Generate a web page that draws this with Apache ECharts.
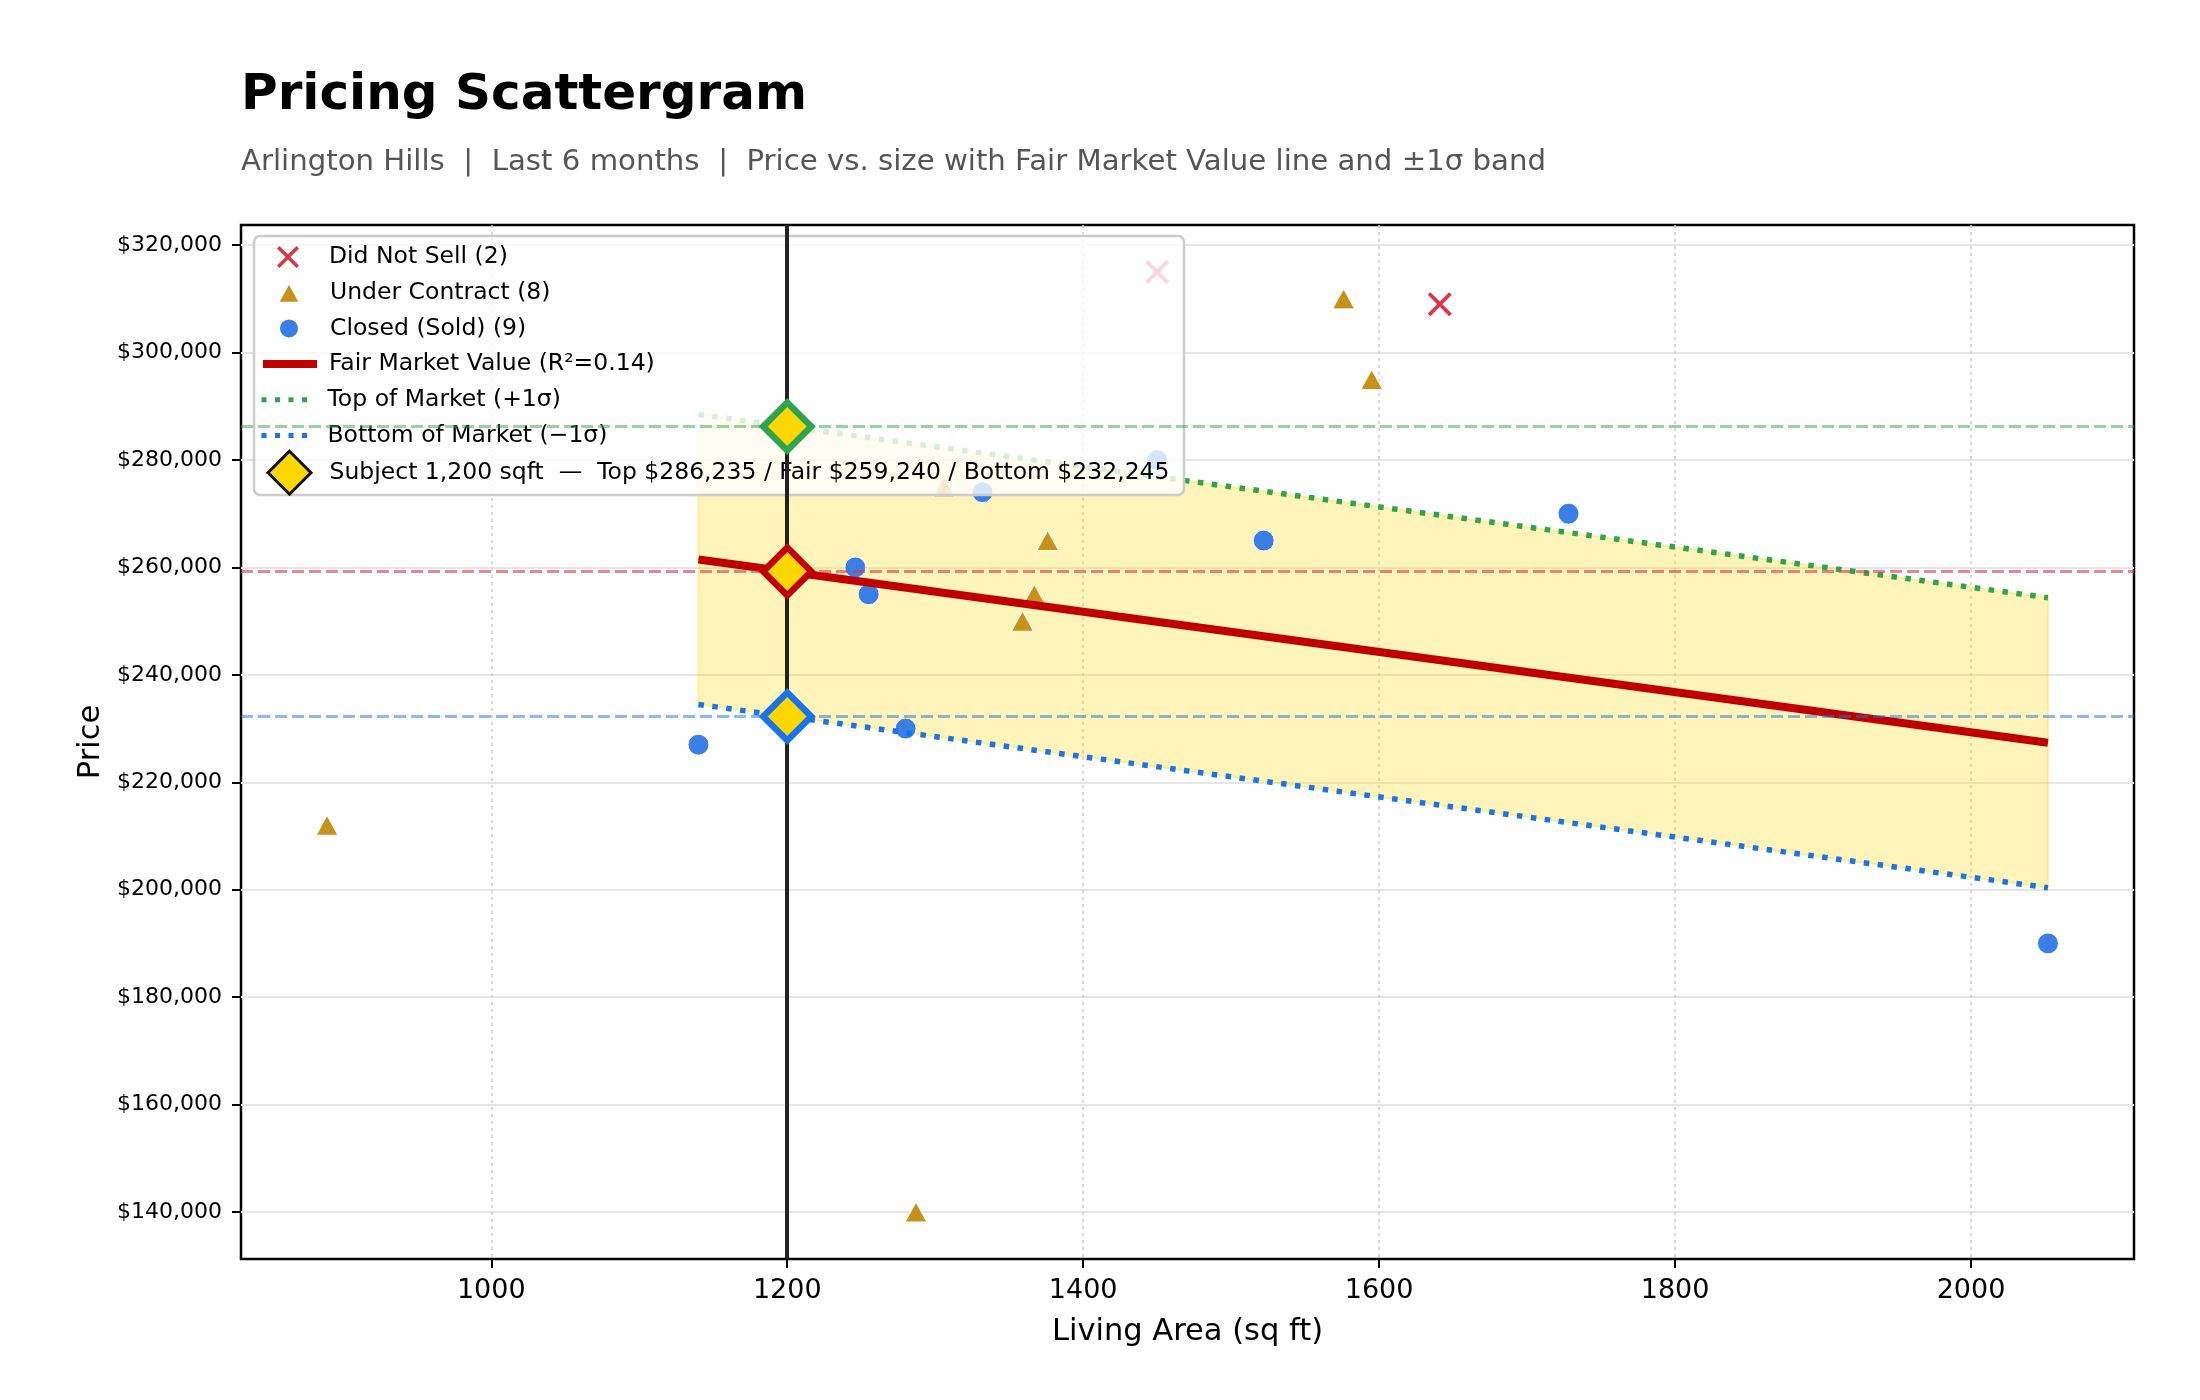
<!DOCTYPE html>
<html>
<head>
<meta charset="utf-8">
<title>Pricing Scattergram</title>
<script src="https://cdn.jsdelivr.net/npm/echarts@6/dist/echarts.min.js"></script>
<style>
  html, body { margin: 0; padding: 0; background: #fff; }
  #chart { width: 2200px; height: 1400px; }
</style>
</head>
<body>
<div id="chart"></div>
<script>
// data: [living area sq ft, price $]
var didNotSell = [[1450, 315000], [1641, 309000]];
var underContract = [[889, 212000], [1287, 140000], [1306, 275000], [1359, 250000],
                     [1367, 255000], [1376, 265000], [1576, 310000], [1595, 295000]];
var closedSold = [[1140, 227000], [1246, 260000], [1255, 255000], [1280, 230000],
                  [1332, 274000], [1450, 280000], [1522, 265000], [1728, 270000], [2052, 190000]];

// fair market value line and the +/-1 sigma lines (end points)
var fmvLine = [[1140, 261480], [2052, 227370]];
var topLine = [[1140, 288475], [2052, 254365]];
var bottomLine = [[1140, 234485], [2052, 200375]];

// subject property
var subjectSqft = 1200;
var subjectTop = 286235;
var subjectFair = 259240;
var subjectBottom = 232245;

// tick values
var xTicks = [1000, 1200, 1400, 1600, 1800, 2000];
var yTicks = [140000, 160000, 180000, 200000, 220000, 240000, 260000, 280000, 300000, 320000];

var legendNames = [
  'Did Not Sell (2)',
  'Under Contract (8)',
  'Closed (Sold) (9)',
  'Fair Market Value (R\u00b2=0.14)',
  'Top of Market (+1\u03c3)',
  'Bottom of Market (\u22121\u03c3)',
  'Subject 1,200 sqft  \u2014  Top $286,235 / Fair $259,240 / Bottom $232,245'
];

(function () {
  "use strict";
  var chart = echarts.init(document.getElementById("chart"), null, { renderer: "canvas" });
  var FONT = "DejaVu Sans";

  var RED_X = "#dc3545";
  var GOLD = "#c8921a";
  var BLUE_DOT = "#3b7fe6";
  var FMV_RED = "#c00000";
  var GREEN = "#2ea44f";
  var BLUE = "#1a73e8";
  var crossPath = "path://M1.1,0L5,3.9L8.9,0L10,1.1L6.1,5L10,8.9L8.9,10L5,6.1L1.1,10L0,8.9L3.9,5L0,1.1Z";
  var hideDot = { color: "rgba(0,0,0,0)", borderWidth: 0, opacity: 0 };

  // one legend per row so each icon keeps its own size
  var rowIcon = [
    { w: 22, h: 22, cx: 288, shift: 0 },
    { w: 22, h: 20, cx: 288, shift: 0 },
    { w: 20, h: 20, cx: 288, shift: 0 },
    { w: 54, h: 14, cx: 286, shift: -4, line: { color: FMV_RED, width: 8, type: "solid" }, item: hideDot },
    { w: 54, h: 14, cx: 286, shift: -4, line: { color: GREEN, width: 5, type: [5, 8.5] }, item: hideDot },
    { w: 54, h: 14, cx: 286, shift: -4, line: { color: BLUE, width: 5, type: [5, 8.5] }, item: hideDot },
    { w: 43, h: 43, cx: 288, shift: -1, item: { color: "#FFD700", borderColor: "#111", borderWidth: 3, opacity: 1 } }
  ];
  var legends = legendNames.map(function (name, i) {
    var cy = 257 + i * 35.7;
    var r = rowIcon[i];
    var box = Math.max(r.h, 28);
    var left = r.cx - r.w / 2;
    var lg = {
      data: [name],
      orient: "vertical",
      left: left,
      top: cy - box / 2,
      padding: 0,
      itemWidth: r.w,
      itemHeight: r.h,
      selectedMode: false,
      z: 5,
      textStyle: {
        fontFamily: FONT, fontSize: 23.5, color: "#000", lineHeight: 28,
        padding: [0, 0, 0, 329 - left - r.w - 5 + r.shift]
      }
    };
    if (r.line) lg.lineStyle = r.line;
    if (r.item) lg.itemStyle = r.item;
    return lg;
  });

  var option = {
    animation: false,
    backgroundColor: "#fff",
    textStyle: { fontFamily: FONT },
    title: [
      {
        text: "Pricing Scattergram",
        left: 241, top: 71, padding: 0,
        textStyle: { fontFamily: FONT, fontSize: 50, fontWeight: "bold", color: "#000" }
      },
      {
        text: "Arlington Hills  |  Last 6 months  |  Price vs. size with Fair Market Value line and \u00b11\u03c3 band",
        left: 241, top: 148, padding: 0,
        textStyle: { fontFamily: FONT, fontSize: 29.2, fontWeight: "normal", color: "#555" }
      }
    ],
    legend: legends,
    graphic: [
      {
        type: "rect", z: 4, silent: true,
        shape: { x: 254, y: 236, width: 930, height: 259, r: 6 },
        style: { fill: "rgba(255,255,255,0.8)", stroke: "#cccccc", lineWidth: 2.5 }
      }
    ],
    grid: {
      left: 241, right: 66, top: 225, bottom: 141,
      show: true, borderColor: "#000", borderWidth: 2.5, backgroundColor: "transparent"
    },
    xAxis: {
      type: "value",
      min: 830.85, max: 2110.15,
      name: "Living Area (sq ft)",
      nameLocation: "middle",
      nameGap: 58,
      nameTextStyle: { fontFamily: FONT, fontSize: 30.5, color: "#000" },
      axisLine: { show: false },
      axisTick: { show: true, length: 9, customValues: xTicks, lineStyle: { color: "#000", width: 2 } },
      axisLabel: {
        customValues: xTicks, margin: 18, fontFamily: FONT, fontSize: 27, color: "#000",
        formatter: function (v) { return String(v); }
      },
      splitLine: { show: true, lineStyle: { color: "#cfcfcf", width: 1.5, type: [3, 4] } }
    },
    yAxis: {
      type: "value",
      min: 131250, max: 323750,
      name: "Price",
      nameLocation: "middle",
      nameRotate: 90,
      nameGap: 134,
      nameTextStyle: { fontFamily: FONT, fontSize: 30.5, color: "#000" },
      axisLine: { show: false },
      axisTick: { show: true, length: 9, customValues: yTicks, lineStyle: { color: "#000", width: 2 } },
      axisLabel: {
        customValues: yTicks, margin: 19, fontFamily: FONT, fontSize: 22, color: "#000",
        formatter: function (v) { return "$" + v.toLocaleString("en-US"); }
      },
      splitLine: { show: true, lineStyle: { color: "#e6e6e6", width: 2 } }
    },
    series: [
      {
        // +/-1 sigma band
        type: "custom",
        name: "band",
        z: 1,
        silent: true,
        data: [fmvLine[0]],
        renderItem: function (params, api) {
          var pts = topLine.map(function (p) { return api.coord(p); })
            .concat(bottomLine.slice().reverse().map(function (p) { return api.coord(p); }));
          return {
            type: "polygon",
            shape: { points: pts },
            style: { fill: "rgba(255,215,0,0.27)", stroke: "rgba(255,215,0,0.3)", lineWidth: 2 }
          };
        }
      },
      {
        type: "scatter", name: legendNames[0], z: 2,
        data: didNotSell, symbol: crossPath, symbolSize: 24,
        itemStyle: { color: RED_X, opacity: 1 }
      },
      {
        type: "scatter", name: legendNames[1], z: 2,
        data: underContract, symbol: "triangle", symbolSize: [22, 20],
        itemStyle: { color: GOLD, borderColor: "#fff", borderWidth: 1, opacity: 1 }
      },
      {
        type: "scatter", name: legendNames[2], z: 2,
        data: closedSold, symbol: "circle", symbolSize: 21,
        itemStyle: { color: BLUE_DOT, borderColor: "#fff", borderWidth: 1, opacity: 1 }
      },
      {
        type: "line", name: legendNames[3], z: 3,
        data: fmvLine, symbol: "none",
        itemStyle: { color: FMV_RED },
        lineStyle: { color: FMV_RED, width: 8 }
      },
      {
        type: "line", name: legendNames[4], z: 3,
        data: topLine, symbol: "none",
        itemStyle: { color: GREEN },
        lineStyle: { color: GREEN, width: 5.5, type: [5.5, 8.5] }
      },
      {
        type: "line", name: legendNames[5], z: 3,
        data: bottomLine, symbol: "none",
        itemStyle: { color: BLUE },
        lineStyle: { color: BLUE, width: 5.5, type: [5.5, 8.5] }
      },
      {
        // reference lines through the subject
        type: "line", name: "refs", z: 6, data: [],
        markLine: {
          silent: true, symbol: ["none", "none"], label: { show: false },
          animation: false,
          data: [
            { yAxis: subjectTop, lineStyle: { color: GREEN, opacity: 0.5, width: 3, type: [12, 5] } },
            { yAxis: subjectFair, lineStyle: { color: RED_X, opacity: 0.6, width: 3, type: [12, 5] } },
            { yAxis: subjectBottom, lineStyle: { color: BLUE, opacity: 0.5, width: 3, type: [12, 5] } },
            { xAxis: subjectSqft, lineStyle: { color: "#222", opacity: 1, width: 4, type: "solid" } }
          ]
        }
      },
      {
        type: "scatter", name: legendNames[6], z: 7,
        symbol: "diamond", symbolSize: 48,
        itemStyle: { color: "#FFD700", borderColor: "#111", borderWidth: 3, opacity: 1 },
        data: [
          { value: [subjectSqft, subjectTop], itemStyle: { borderColor: GREEN, borderWidth: 6.5 } },
          { value: [subjectSqft, subjectFair], itemStyle: { borderColor: FMV_RED, borderWidth: 6.5 } },
          { value: [subjectSqft, subjectBottom], itemStyle: { borderColor: BLUE, borderWidth: 6.5 } }
        ]
      }
    ]
  };

  chart.setOption(option);
  window.addEventListener("resize", function () { chart.resize(); });
})();
</script>
</body>
</html>
